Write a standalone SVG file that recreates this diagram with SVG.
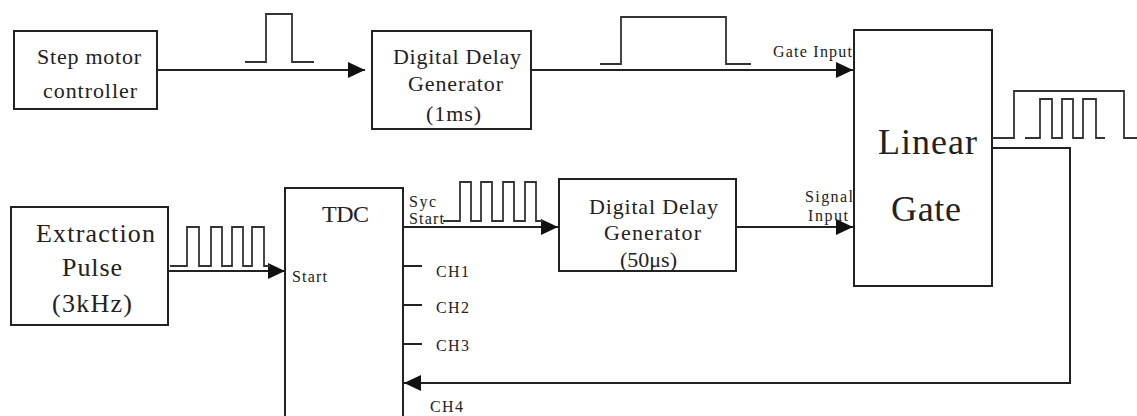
<svg xmlns="http://www.w3.org/2000/svg" width="1137" height="416" viewBox="0 0 1137 416">
<style>
.box{fill:#fff;stroke:#222;stroke-width:2}
.ln{fill:none;stroke:#222;stroke-width:2}
.sig{fill:none;stroke:#333;stroke-width:1.8}
.lbl{font-family:'Liberation Serif',serif;fill:#222;font-size:22px}
.sml{font-family:'Liberation Serif',serif;fill:#222;font-size:16px}
</style>
<defs>
<marker id="ah" markerUnits="userSpaceOnUse" markerWidth="18" markerHeight="18" viewBox="0 0 18 18" refX="17" refY="9" orient="auto">
<path d="M0,1 L17,9 L0,17 Z" fill="#111"/>
</marker>
</defs>
<g id="step-motor">
<rect class="box" x="14" y="31" width="143" height="78"/>
<text class="lbl" x="37" y="64" textLength="104">Step motor</text>
<text class="lbl" x="43" y="98" textLength="94">controller</text>
</g>
<g id="ddg1">
<rect class="box" x="372" y="31" width="159" height="98"/>
<text class="lbl" x="393" y="64" textLength="128">Digital Delay</text>
<text class="lbl" x="408" y="91" textLength="95">Generator</text>
<text class="lbl" x="426" y="121" textLength="55">(1ms)</text>
</g>
<g id="linear-gate">
<rect class="box" x="854" y="30" width="138" height="256"/>
<text class="lbl" style="font-size:36px" x="878" y="154" textLength="99">Linear</text>
<text class="lbl" style="font-size:36px" x="891" y="221" textLength="70">Gate</text>
</g>
<g id="extraction">
<rect class="box" x="11" y="207" width="157" height="118"/>
<text class="lbl" style="font-size:26px" x="36" y="242" textLength="119">Extraction</text>
<text class="lbl" style="font-size:26px" x="62" y="276" textLength="60">Pulse</text>
<text class="lbl" style="font-size:26px" x="52" y="312" textLength="80">(3kHz)</text>
</g>
<g id="tdc">
<rect class="box" x="285" y="188" width="118" height="245"/>
<text class="lbl" style="font-size:24px" x="322" y="222" textLength="47">TDC</text>
<text class="sml" x="292" y="282" textLength="35">Start</text>
<text class="sml" x="409" y="207" textLength="27">Syc</text>
<text class="sml" x="409" y="224" textLength="35">Start</text>
<path class="ln" d="M403,266 H422 M403,305 H422 M403,344 H422"/>
<text class="sml" x="436" y="277" textLength="33">CH1</text>
<text class="sml" x="436" y="313" textLength="33">CH2</text>
<text class="sml" x="436" y="351" textLength="33">CH3</text>
<text class="sml" x="430" y="412" textLength="33">CH4</text>
</g>
<g id="ddg2">
<rect class="box" x="559" y="179" width="177" height="92"/>
<text class="lbl" x="589" y="214" textLength="129">Digital Delay</text>
<text class="lbl" x="604" y="240" textLength="97">Generator</text>
<text class="lbl" x="620" y="267" textLength="57">(50μs)</text>
</g>
<g id="connectors">
<path class="ln" d="M157,70 H365" marker-end="url(#ah)"/>
<path class="ln" d="M531,70 H853" marker-end="url(#ah)"/>
<path class="ln" d="M168,271 H285" marker-end="url(#ah)"/>
<path class="ln" d="M403,227 H558" marker-end="url(#ah)"/>
<path class="ln" d="M736,227 H853" marker-end="url(#ah)"/>
<path class="ln" d="M992,148 H1070 V383 H404" marker-end="url(#ah)"/>
<text class="sml" x="773" y="57" textLength="79">Gate Input</text>
<text class="sml" x="805" y="202" textLength="48">Signal</text>
<text class="sml" x="808" y="221" textLength="40">Input</text>
</g>
<g id="waveforms">
<path class="sig" d="M245,62 H266 V14 H292 V62 H314"/>
<path class="sig" d="M600,64 H621 V17 H726 V64 H751"/>
<path class="sig" d="M170,266 H187 V227 H199 V266 H211 V227 H222 V266 H232 V227 H243 V266 H252 V227 H264 V266 H270"/>
<path class="sig" d="M443,221 H460 V182 H471 V221 H481 V182 H492 V221 H503 V182 H514 V221 H525 V182 H536 V221 H543"/>
<path class="sig" d="M992,138 H1014 V91 H1124 V138 H1137"/>
<path class="sig" d="M1025,138 H1040 V99 H1052 V138 H1062 V99 H1073 V138 H1083 V99 H1096 V138 H1105"/>
</g>
</svg>
